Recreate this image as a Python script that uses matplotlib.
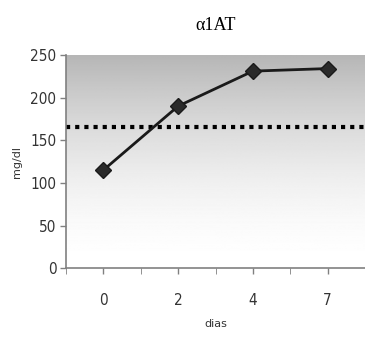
import numpy as np
import matplotlib.pyplot as plt

days = ["0", "2", "4", "7"]
values = [115, 190, 231, 234]
reference_level = 165
y_ticks = [0, 50, 100, 150, 200, 250]


def main():
    fig = plt.figure(figsize=(3.65, 3.39), dpi=100)
    ax = fig.add_axes([0.181, 0.209, 0.819, 0.629])

    x = np.arange(len(days))
    ax.set_xlim(-0.5, len(days) - 0.5)
    ax.set_ylim(0, 250)

    # grey-to-white gradient background like the old spreadsheet chart
    grad = np.linspace(0, 1, 256).reshape(-1, 1)
    shade = np.clip(1.0 - 0.29 * grad ** 1.7, 0, 1)
    ax.imshow(shade, cmap="gray", vmin=0, vmax=1, origin="lower",
              extent=[-0.5, len(days) - 0.5, 0, 250], aspect="auto", zorder=0)

    ax.axhline(reference_level, color="black", lw=3, ls=(0, (1, 1.2)), zorder=2)
    ax.plot(x, values, color="#1a1a1a", lw=2, marker="D", ms=8,
            markerfacecolor="#2a2a2a", markeredgecolor="#1a1a1a", zorder=3)

    ax.set_xticks(x)
    ax.set_xticklabels(days)
    ax.set_xticks(np.arange(-0.5, len(days), 0.5), minor=True)
    ax.set_yticks(y_ticks)
    ax.tick_params(axis="both", labelsize=11, colors="#333333", length=4,
                   width=1, direction="out")
    ax.tick_params(axis="x", which="both", length=4, color="#808080", pad=14)
    ax.tick_params(axis="y", color="#808080", pad=3)
    for lab in ax.get_xticklabels() + ax.get_yticklabels():
        lab.set_fontstretch("condensed")
        lab.set_fontweight("medium")

    for side in ["top", "right"]:
        ax.spines[side].set_visible(False)
    for side in ["left", "bottom"]:
        ax.spines[side].set_color("#808080")
        ax.spines[side].set_linewidth(1.2)

    ax.set_xlabel("dias", fontsize=8, color="#333333", labelpad=8)
    ax.set_ylabel("mg/dl", fontsize=8, color="#333333", labelpad=6)
    ax.set_title("\u03b11AT", fontsize=13, family="Liberation Serif", pad=18)

    fig.savefig("out.png", dpi=100)


if __name__ == "__main__":
    main()
